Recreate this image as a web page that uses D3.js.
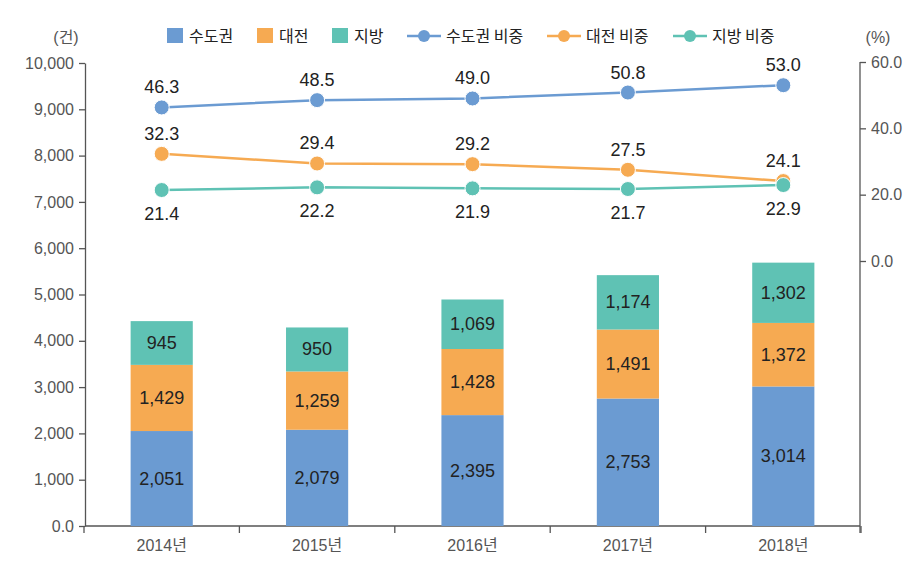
<!DOCTYPE html>
<html><head><meta charset="utf-8">
<script src="https://cdn.jsdelivr.net/npm/d3@7"></script>
<style>
body{margin:0;background:#fff;}
svg{display:block;}
text{font-family:"Liberation Sans Narrow","Liberation Sans",Arial,"Noto Sans CJK KR",sans-serif;}
.kr{font-family:"Noto Sans CJK KR","Liberation Sans",sans-serif;}
</style></head>
<body>
<svg id="c" width="921" height="565"></svg>
<script>
const years = ["2014년","2015년","2016년","2017년","2018년"];
const barSeries = ["수도권","대전","지방"];
const metro = [2051,2079,2395,2753,3014];
const daejeon = [1429,1259,1428,1491,1372];
const local = [945,950,1069,1174,1302];
const lineSeries = ["수도권 비중","대전 비중","지방 비중"];
const metroShare = [46.3,48.5,49.0,50.8,53.0];
const daejeonShare = [32.3,29.4,29.2,27.5,24.1];
const localShare = [21.4,22.2,21.9,21.7,22.9];
const leftTicks = [0,1000,2000,3000,4000,5000,6000,7000,8000,9000,10000];
const rightTicks = [0,20,40,60];

const colors = ["#6b9bd2","#f6aa52","#5fc2b4"];
const svg = d3.select("#c");
const x = d3.scaleBand().domain(years).range([84,861]).paddingInner(0.6).paddingOuter(0.3);
const y = d3.scaleLinear().domain([0,10000]).range([526,63]);
const yr = d3.scaleLinear().domain([0,60]).range([261,62]);

// Axes
const axisColor = "#555";
const la = svg.append("g").attr("transform","translate(85,0)")
  .call(d3.axisLeft(y).tickValues(leftTicks).tickSize(6).tickSizeOuter(0).tickPadding(5)
    .tickFormat(d=> d===0 ? "0.0" : d3.format(",")(d)));
la.select(".domain").attr("stroke",axisColor).attr("stroke-width",1.3);
la.selectAll(".tick line").attr("stroke",axisColor).attr("stroke-width",1.3);
la.selectAll(".tick text").attr("fill","#555").attr("font-size",16).attr("class","");

const ra = svg.append("g").attr("transform","translate(860,0)")
  .call(d3.axisRight(yr).tickValues(rightTicks).tickSize(6).tickSizeOuter(0).tickPadding(5)
    .tickFormat(d3.format(".1f")));
ra.select(".domain").remove();
ra.selectAll(".tick line").attr("stroke",axisColor).attr("stroke-width",1.3);
ra.selectAll(".tick text").attr("fill","#555").attr("font-size",16);
svg.append("line").attr("x1",860).attr("x2",860).attr("y1",yr(60)).attr("y2",y(0)+7)
  .attr("stroke",axisColor).attr("stroke-width",1.3);

// x axis
svg.append("line").attr("x1",85).attr("x2",860).attr("y1",y(0)).attr("y2",y(0))
  .attr("stroke",axisColor).attr("stroke-width",1.3);
const step = x.step();
const edges = years.map(d=>x(d)+x.bandwidth()/2-step/2).concat([x(years[4])+x.bandwidth()/2+step/2]);
svg.selectAll(".xt").data(edges).enter().append("line")
  .attr("x1",d=>d).attr("x2",d=>d).attr("y1",y(0)).attr("y2",y(0)+7)
  .attr("stroke",axisColor).attr("stroke-width",1.3);
svg.selectAll(".xl").data(years).enter().append("text")
  .attr("x",d=>x(d)+x.bandwidth()/2).attr("y",551).attr("text-anchor","middle")
  .attr("fill","#555").attr("font-size",16).text(d=>d);

// Unit labels
svg.append("text").attr("x",66).attr("y",43).attr("text-anchor","middle").attr("fill","#555").attr("font-size",16).text("(건)");
svg.append("text").attr("x",878).attr("y",43).attr("text-anchor","middle").attr("fill","#555").attr("font-size",16).text("(%)");

// Stacked bars
const barData = [metro,daejeon,local];
years.forEach((yr_,i)=>{
  let base = 0;
  barData.forEach((arr,s)=>{
    const v = arr[i];
    svg.append("rect").attr("x",x(yr_)).attr("width",x.bandwidth())
      .attr("y",y(base+v)).attr("height",y(base)-y(base+v)).attr("fill",colors[s]);
    svg.append("text").attr("x",x(yr_)+x.bandwidth()/2).attr("y",(y(base)+y(base+v))/2+6)
      .attr("text-anchor","middle").attr("font-size",18).attr("fill","#222")
      .text(d3.format(",")(v));
    base += v;
  });
});

// Lines
const lineData = [metroShare,daejeonShare,localShare];
const cx = d=>x(d)+x.bandwidth()/2;
lineData.forEach((arr,s)=>{
  const pts = years.map((d,i)=>[cx(d),yr(arr[i])]);
  svg.append("path").attr("d",d3.line()(pts)).attr("fill","none")
    .attr("stroke",colors[s]).attr("stroke-width",2.5);
});
lineData.forEach((arr,s)=>{
  years.forEach((d,i)=>{
    svg.append("circle").attr("cx",cx(d)).attr("cy",yr(arr[i])).attr("r",7.5)
      .attr("fill",colors[s]).attr("stroke","#fff").attr("stroke-width",1);
  });
});
lineData.forEach((arr,s)=>{
  years.forEach((d,i)=>{
    const py = yr(arr[i]);
    const ty = s===2 ? py+30 : py-14;
    svg.append("text").attr("x",cx(d)).attr("y",ty).attr("text-anchor","middle")
      .attr("font-size",18).attr("fill","#222").text(d3.format(".1f")(arr[i]));
  });
});

// Legend
const legY = 36;
const barLegX = [167,257,332];
barSeries.forEach((n,i)=>{
  svg.append("rect").attr("x",barLegX[i]).attr("y",legY-8).attr("width",16).attr("height",15).attr("fill",colors[i]);
  svg.append("text").attr("class","kr").attr("x",barLegX[i]+22).attr("y",legY+6).attr("font-size",16).attr("fill","#222").text(n);
});
const lineLegX = [407,547,673];
lineSeries.forEach((n,i)=>{
  const x0 = lineLegX[i];
  svg.append("line").attr("x1",x0).attr("x2",x0+34).attr("y1",legY).attr("y2",legY).attr("stroke",colors[i]).attr("stroke-width",2.5);
  svg.append("circle").attr("cx",x0+17).attr("cy",legY).attr("r",6).attr("fill",colors[i]);
  svg.append("text").attr("class","kr").attr("x",x0+39).attr("y",legY+6).attr("font-size",16).attr("fill","#222").text(n);
});
</script>
</body></html>
